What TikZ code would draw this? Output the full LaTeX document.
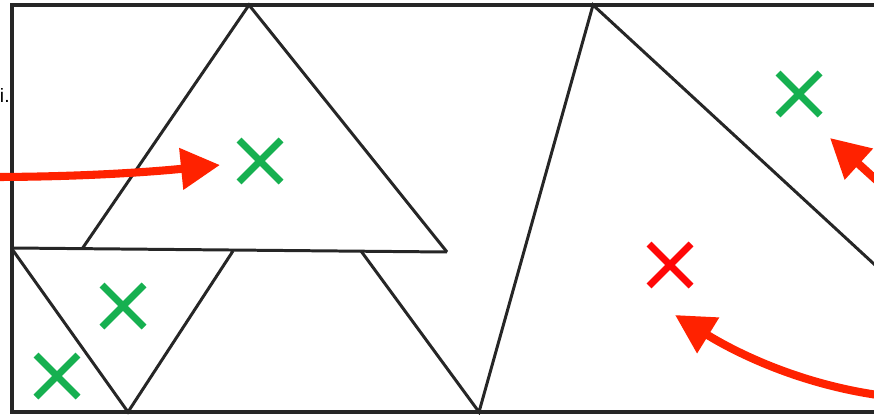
\documentclass[tikz,border=0pt]{standalone}
\usepackage{fontspec}
\setmainfont{Liberation Sans}
\usetikzlibrary{arrows.meta}
\definecolor{verdex}{RGB}{22,176,80}
\definecolor{rossox}{RGB}{255,8,8}
\definecolor{rossofreccia}{RGB}{255,34,0}
\tikzset{
    linea/.style={line width=1.7pt, black!85, line join=miter},
    bordo/.style={line width=2.2pt, black!85},
    croce/.style={line width=4pt},
    freccia/.style={line width=4.6pt, rossofreccia, -{Triangle[length=0.78cm, width=0.8cm]}}
}
\begin{document}
\begin{tikzpicture}[x=0.02cm, y=-0.02cm]
        \clip (0,0) rectangle (874,415);
        
        % Testo tagliato
        \node[anchor=base east, inner sep=0pt, font=\fontsize{11}{13}\selectfont] (frammento) at (10,103) {i.};
        
        % Cornice
        \draw[bordo] (890,5) -- (12,5) -- (12,412) -- (890,412);
        
        % Triangolo grande a sinistra e linea orizzontale
        \draw[linea] (82,249) -- (249,5) -- (447,252);
        \draw[linea] (12,248) -- (447,252);
        
        % Triangolo rovesciato in basso
        \draw[linea] (12,249) -- (128,412) -- (233,251);
        
        % Linee centrali
        \draw[linea] (361,251) -- (479,412) -- (593,5) -- (900,288);
        
        % Croci verdi e rossa
        \foreach \x/\y/\c in {260/161/verdex, 123/306/verdex, 57/376/verdex, 799/94/verdex, 670/265/rossox} {
            \draw[croce, \c] (\x-21, \y-21) -- (\x+21, \y+21);
            \draw[croce, \c] (\x-21, \y+21) -- (\x+21, \y-21);
        }
        
        % Frecce
        \coordinate (inizioA) at (-10,177);
        \coordinate (puntaA) at (220,165);
        \coordinate (inizioB) at (895,197);
        \coordinate (puntaB) at (830,138);
        \coordinate (inizioC) at (885,396);
        \coordinate (puntaC) at (675,315);
        \draw[freccia] (inizioA) .. controls (80,177) and (150,172) .. (puntaA);
        \draw[freccia] (inizioB) -- (puntaB);
        \draw[freccia] (inizioC) .. controls (800,385) and (735,352) .. (puntaC);
        
\end{tikzpicture}
\end{document}
